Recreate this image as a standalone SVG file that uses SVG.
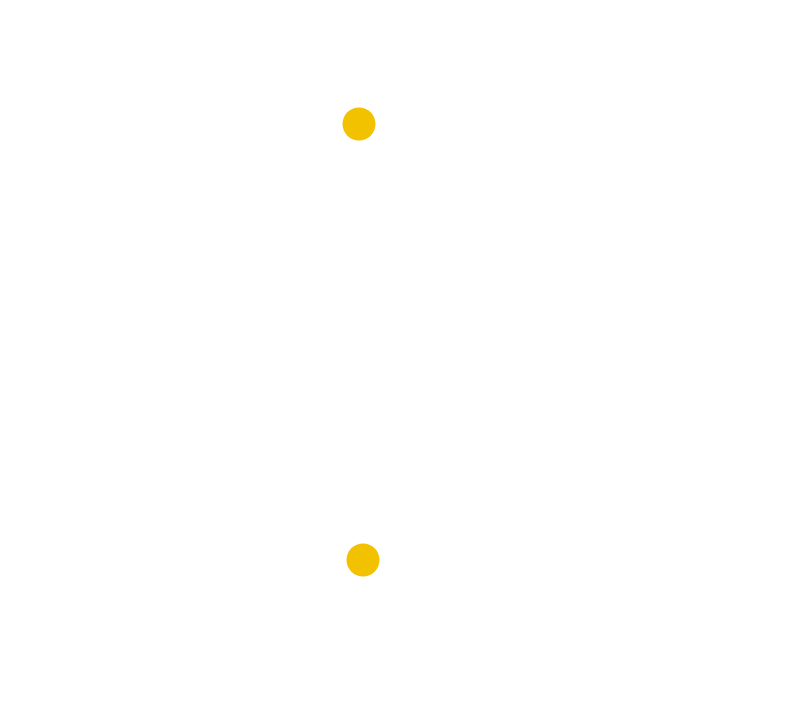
<svg xmlns="http://www.w3.org/2000/svg" width="800" height="720" viewBox="0 0 800 720">
<style>.dot{fill:#F2C200}</style>
<rect width="800" height="720" fill="#ffffff"/>
<g id="node-top"><circle class="dot" cx="359" cy="124" r="16.5"/></g>
<g id="node-bottom"><circle class="dot" cx="363" cy="560" r="16.5"/></g>
<g id="connectors"></g>
</svg>
